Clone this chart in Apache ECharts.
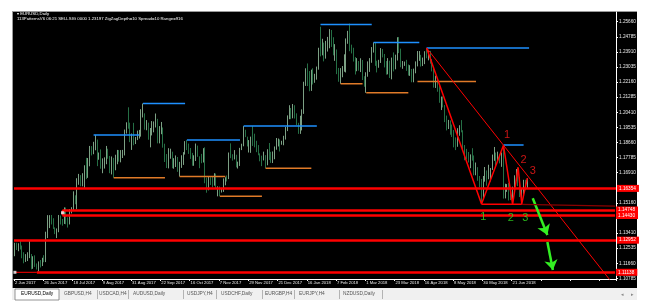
<!DOCTYPE html>
<html><head><meta charset="utf-8">
<script src="https://cdn.jsdelivr.net/npm/echarts@6/dist/echarts.min.js"></script>
<style>
html,body{margin:0;padding:0;background:#ffffff;width:652px;height:303px;overflow:hidden;}
#panel{position:absolute;left:12px;top:11px;width:625px;height:277px;background:#000;border-left:1px solid #9a9a9a;border-top:1px solid #9a9a9a;box-sizing:border-box;}
#tabs{position:absolute;left:12px;top:288px;width:625px;height:12px;background:#f0f0f0;}
#chart{position:absolute;left:0;top:0;width:652px;height:303px;}
</style></head><body>
<div id="panel"></div><div id="tabs"></div><div id="chart"></div>
<script>
// ---- tick labels ----
const xLabels = ['2 Jun 2017','26 Jun 2017','18 Jul 2017','9 Aug 2017','31 Aug 2017','22 Sep 2017','16 Oct 2017','7 Nov 2017','29 Nov 2017','21 Dec 2017','16 Jan 2018','7 Feb 2018','1 Mar 2018','23 Mar 2018','16 Apr 2018','8 May 2018','30 May 2018','21 Jun 2018'];
const yTicks = [1.25660,1.24785,1.23910,1.23035,1.22160,1.21285,1.20410,1.19535,1.18660,1.17785,1.16910,1.16035,1.15160,1.14285,1.13410,1.12535,1.11660,1.10785];

// ---- daily candles [open, high, low, close] ----
const jun17 = [[1.1216,1.1285,1.1207,1.1281],[1.1280,1.1285,1.1243,1.1253],[1.1253,1.1282,1.1236,1.1275],[1.1275,1.1296,1.1246,1.1258],[1.1258,1.1269,1.1195,1.1212],[1.1212,1.1230,1.1166,1.1197],[1.1197,1.1219,1.1174,1.1200],[1.1200,1.1230,1.1179,1.1213],[1.1213,1.1296,1.1196,1.1218],[1.1218,1.1220,1.1131,1.1149],[1.1149,1.1207,1.1134,1.1197],[1.1197,1.1212,1.1145,1.1150],[1.1150,1.1165,1.1130,1.1131],[1.1131,1.1177,1.1119,1.1167],[1.1167,1.1185,1.1142,1.1151],[1.1151,1.1198,1.1150,1.1196],[1.1196,1.1213,1.1172,1.1181],[1.1181,1.1349,1.1173,1.1337],[1.1337,1.1445,1.1312,1.1377],[1.1377,1.1445,1.1370,1.1441],[1.1441,1.1446,1.1391,1.1424]];
const jul17 = [[1.1424,1.1427,1.1365,1.1365],[1.1365,1.1374,1.1335,1.1349],[1.1349,1.1368,1.1312,1.1351],[1.1351,1.1446,1.1346,1.1423],[1.1423,1.1443,1.1391,1.1401],[1.1401,1.1423,1.1384,1.1400],[1.1400,1.1490,1.1394,1.1469],[1.1469,1.1489,1.1392,1.1414],[1.1414,1.1432,1.1373,1.1397],[1.1397,1.1480,1.1391,1.1470],[1.1470,1.1491,1.1455,1.1478],[1.1478,1.1583,1.1474,1.1556],[1.1556,1.1560,1.1508,1.1515],[1.1515,1.1659,1.1479,1.1635],[1.1635,1.1684,1.1621,1.1665],[1.1665,1.1677,1.1612,1.1642],[1.1642,1.1688,1.1612,1.1646],[1.1646,1.1734,1.1603,1.1731],[1.1731,1.1777,1.1654,1.1678],[1.1678,1.1776,1.1661,1.1751],[1.1751,1.1846,1.1728,1.1835]];
const aug17 = [[1.1835,1.1845,1.1791,1.1803],[1.1803,1.1870,1.1798,1.1860],[1.1860,1.1910,1.1821,1.1864],[1.1864,1.1883,1.1729,1.1774],[1.1774,1.1808,1.1766,1.1793],[1.1793,1.1826,1.1714,1.1753],[1.1753,1.1774,1.1688,1.1757],[1.1757,1.1780,1.1715,1.1769],[1.1769,1.1846,1.1740,1.1820],[1.1820,1.1830,1.1772,1.1779],[1.1779,1.1788,1.1688,1.1736],[1.1736,1.1785,1.1681,1.1769],[1.1769,1.1777,1.1662,1.1721],[1.1721,1.1795,1.1705,1.1761],[1.1761,1.1823,1.1740,1.1814],[1.1814,1.1822,1.1755,1.1762],[1.1762,1.1822,1.1751,1.1799],[1.1799,1.1823,1.1776,1.1800],[1.1800,1.1941,1.1791,1.1921],[1.1921,1.1983,1.1918,1.1977],[1.1977,1.2070,1.1946,1.1968],[1.1968,1.1981,1.1868,1.1886],[1.1886,1.1918,1.1823,1.1907]];
const sep17 = [[1.1907,1.1980,1.1850,1.1859],[1.1859,1.1898,1.1857,1.1886],[1.1886,1.1935,1.1880,1.1918],[1.1918,1.1939,1.1889,1.1918],[1.1918,1.2059,1.1900,1.2022],[1.2022,1.2092,1.2011,1.2035],[1.2035,1.2035,1.1940,1.1952],[1.1952,1.1996,1.1937,1.1966],[1.1966,1.1981,1.1882,1.1887],[1.1887,1.1950,1.1838,1.1923],[1.1923,1.1990,1.1907,1.1942],[1.1942,1.1988,1.1925,1.1955],[1.1955,1.2034,1.1953,1.1996],[1.1996,1.2003,1.1861,1.1890],[1.1890,1.1961,1.1861,1.1939],[1.1939,1.1985,1.1914,1.1950],[1.1950,1.1953,1.1836,1.1844],[1.1844,1.1859,1.1753,1.1795],[1.1795,1.1799,1.1718,1.1749],[1.1749,1.1833,1.1716,1.1787],[1.1787,1.1830,1.1772,1.1813]];
const oct17 = [[1.1813,1.1813,1.1717,1.1733],[1.1733,1.1775,1.1714,1.1741],[1.1741,1.1791,1.1724,1.1761],[1.1761,1.1782,1.1696,1.1707],[1.1707,1.1754,1.1669,1.1731],[1.1731,1.1792,1.1719,1.1738],[1.1738,1.1810,1.1736,1.1810],[1.1810,1.1874,1.1796,1.1857],[1.1857,1.1880,1.1822,1.1826],[1.1826,1.1860,1.1800,1.1819],[1.1819,1.1834,1.1771,1.1793],[1.1793,1.1806,1.1731,1.1765],[1.1765,1.1792,1.1731,1.1785],[1.1785,1.1860,1.1759,1.1844],[1.1844,1.1848,1.1783,1.1784],[1.1784,1.1786,1.1717,1.1763],[1.1763,1.1800,1.1746,1.1761],[1.1761,1.1833,1.1750,1.1812],[1.1812,1.1838,1.1630,1.1648],[1.1648,1.1663,1.1575,1.1609],[1.1609,1.1668,1.1589,1.1661],[1.1661,1.1665,1.1620,1.1647]];
const nov17 = [[1.1647,1.1667,1.1606,1.1622],[1.1622,1.1688,1.1616,1.1656],[1.1656,1.1686,1.1601,1.1608],[1.1608,1.1612,1.1554,1.1610],[1.1610,1.1611,1.1555,1.1587],[1.1587,1.1603,1.1576,1.1592],[1.1592,1.1658,1.1580,1.1645],[1.1645,1.1665,1.1618,1.1664],[1.1664,1.1675,1.1640,1.1663],[1.1663,1.1808,1.1654,1.1796],[1.1796,1.1861,1.1775,1.1792],[1.1792,1.1798,1.1761,1.1771],[1.1771,1.1822,1.1768,1.1792],[1.1792,1.1795,1.1722,1.1735],[1.1735,1.1755,1.1715,1.1736],[1.1736,1.1835,1.1730,1.1824],[1.1824,1.1859,1.1822,1.1854],[1.1854,1.1961,1.1844,1.1932],[1.1932,1.1940,1.1897,1.1896],[1.1896,1.1900,1.1843,1.1843],[1.1843,1.1880,1.1808,1.1845],[1.1845,1.1900,1.1806,1.1900]];
const dec17 = [[1.1900,1.1961,1.1846,1.1894],[1.1894,1.1917,1.1838,1.1864],[1.1864,1.1876,1.1810,1.1825],[1.1825,1.1851,1.1792,1.1795],[1.1795,1.1803,1.1757,1.1773],[1.1773,1.1790,1.1729,1.1772],[1.1772,1.1813,1.1762,1.1772],[1.1772,1.1793,1.1717,1.1741],[1.1741,1.1827,1.1734,1.1825],[1.1825,1.1863,1.1765,1.1778],[1.1778,1.1812,1.1748,1.1751],[1.1751,1.1814,1.1747,1.1780],[1.1780,1.1843,1.1769,1.1838],[1.1838,1.1892,1.1824,1.1873],[1.1873,1.1889,1.1843,1.1874],[1.1874,1.1884,1.1814,1.1860],[1.1860,1.1876,1.1853,1.1860],[1.1860,1.1905,1.1850,1.1890],[1.1890,1.1956,1.1883,1.1942],[1.1942,1.2023,1.1932,1.2005]];
const jan18 = [[1.2005,1.2082,1.2001,1.2059],[1.2059,1.2066,1.2001,1.2013],[1.2013,1.2089,1.2006,1.2069],[1.2069,1.2082,1.2005,1.2029],[1.2029,1.2035,1.1967,1.1967],[1.1967,1.1980,1.1916,1.1937],[1.1937,1.2021,1.1916,1.1949],[1.1949,1.2058,1.1936,1.2034],[1.2034,1.2218,1.2032,1.2200],[1.2200,1.2296,1.2194,1.2265],[1.2265,1.2324,1.2193,1.2261],[1.2261,1.2280,1.2163,1.2177],[1.2177,1.2288,1.2165,1.2236],[1.2236,1.2296,1.2202,1.2222],[1.2222,1.2264,1.2212,1.2262],[1.2262,1.2306,1.2230,1.2300],[1.2300,1.2415,1.2288,1.2407],[1.2407,1.2537,1.2365,1.2395],[1.2395,1.2467,1.2371,1.2427],[1.2427,1.2445,1.2336,1.2383],[1.2383,1.2455,1.2352,1.2405],[1.2405,1.2478,1.2393,1.2414]];
const feb18 = [[1.2414,1.2523,1.2412,1.2509],[1.2509,1.2518,1.2420,1.2459],[1.2459,1.2476,1.2371,1.2376],[1.2376,1.2436,1.2339,1.2376],[1.2376,1.2405,1.2262,1.2265],[1.2265,1.2298,1.2218,1.2246],[1.2246,1.2297,1.2206,1.2253],[1.2253,1.2309,1.2244,1.2289],[1.2289,1.2377,1.2276,1.2354],[1.2354,1.2469,1.2272,1.2449],[1.2449,1.2513,1.2438,1.2500],[1.2500,1.2555,1.2395,1.2407],[1.2407,1.2433,1.2382,1.2406],[1.2406,1.2415,1.2335,1.2338],[1.2338,1.2361,1.2260,1.2283],[1.2283,1.2355,1.2279,1.2326],[1.2326,1.2338,1.2282,1.2293],[1.2293,1.2354,1.2274,1.2318],[1.2318,1.2344,1.2228,1.2233],[1.2233,1.2250,1.2189,1.2193]];
const mar18 = [[1.2193,1.2273,1.2154,1.2270],[1.2270,1.2336,1.2247,1.2317],[1.2317,1.2355,1.2275,1.2337],[1.2337,1.2419,1.2328,1.2404],[1.2404,1.2446,1.2387,1.2411],[1.2411,1.2447,1.2310,1.2312],[1.2312,1.2340,1.2272,1.2306],[1.2306,1.2345,1.2299,1.2335],[1.2335,1.2413,1.2327,1.2389],[1.2389,1.2408,1.2359,1.2368],[1.2368,1.2379,1.2301,1.2304],[1.2304,1.2338,1.2259,1.2288],[1.2288,1.2355,1.2261,1.2335],[1.2335,1.2340,1.2240,1.2240],[1.2240,1.2358,1.2232,1.2352],[1.2352,1.2388,1.2278,1.2302],[1.2302,1.2375,1.2290,1.2352],[1.2352,1.2476,1.2341,1.2452],[1.2452,1.2477,1.2384,1.2403],[1.2403,1.2410,1.2302,1.2312],[1.2312,1.2338,1.2293,1.2319],[1.2319,1.2335,1.2310,1.2325]];
const apr18 = [[1.2325,1.2345,1.2281,1.2302],[1.2302,1.2318,1.2254,1.2270],[1.2270,1.2314,1.2252,1.2276],[1.2276,1.2292,1.2215,1.2240],[1.2240,1.2294,1.2215,1.2280],[1.2280,1.2336,1.2267,1.2319],[1.2319,1.2396,1.2307,1.2355],[1.2355,1.2396,1.2339,1.2367],[1.2367,1.2374,1.2306,1.2326],[1.2326,1.2358,1.2309,1.2331],[1.2331,1.2395,1.2320,1.2384],[1.2384,1.2414,1.2354,1.2371],[1.2371,1.2396,1.2342,1.2372],[1.2372,1.2397,1.2323,1.2343],[1.2343,1.2349,1.2278,1.2288],[1.2288,1.2292,1.2184,1.2210],[1.2210,1.2253,1.2182,1.2233],[1.2233,1.2236,1.2160,1.2162],[1.2162,1.2207,1.2096,1.2103],[1.2103,1.2132,1.2054,1.2130],[1.2130,1.2133,1.2069,1.2080]];
const may18 = [[1.2080,1.2083,1.1984,1.1992],[1.1992,1.2022,1.1936,1.1948],[1.1948,1.1997,1.1944,1.1988],[1.1988,1.1994,1.1911,1.1961],[1.1961,1.1970,1.1898,1.1920],[1.1920,1.1938,1.1838,1.1863],[1.1863,1.1896,1.1822,1.1851],[1.1851,1.1949,1.1841,1.1916],[1.1916,1.1966,1.1905,1.1941],[1.1941,1.1996,1.1925,1.1925],[1.1925,1.1937,1.1821,1.1833],[1.1833,1.1851,1.1763,1.1809],[1.1809,1.1829,1.1768,1.1794],[1.1794,1.1811,1.1750,1.1769],[1.1769,1.1797,1.1717,1.1790],[1.1790,1.1833,1.1761,1.1778],[1.1778,1.1791,1.1676,1.1698],[1.1698,1.1750,1.1676,1.1720],[1.1720,1.1723,1.1644,1.1653],[1.1653,1.1672,1.1606,1.1623],[1.1623,1.1655,1.1510,1.1538],[1.1538,1.1672,1.1535,1.1664],[1.1664,1.1724,1.1639,1.1694]];
const jun18 = [[1.1694,1.1704,1.1616,1.1659],[1.1659,1.1737,1.1653,1.1694],[1.1694,1.1718,1.1641,1.1717],[1.1717,1.1796,1.1707,1.1775],[1.1775,1.1840,1.1760,1.1798],[1.1798,1.1808,1.1727,1.1769],[1.1769,1.1813,1.1756,1.1782],[1.1782,1.1796,1.1745,1.1776],[1.1776,1.1808,1.1725,1.1794],[1.1794,1.1852,1.1541,1.1567],[1.1567,1.1627,1.1542,1.1610],[1.1610,1.1625,1.1580,1.1620],[1.1620,1.1631,1.1530,1.1588],[1.1588,1.1599,1.1532,1.1571],[1.1571,1.1610,1.1508,1.1602],[1.1602,1.1676,1.1594,1.1655],[1.1655,1.1712,1.1645,1.1700],[1.1700,1.1722,1.1613,1.1655],[1.1655,1.1666,1.1550,1.1560],[1.1560,1.1600,1.1510,1.1571],[1.1571,1.1650,1.1560,1.1640]];
const jul18 = [[1.1640,1.1650,1.1590,1.1620],[1.1620,1.1659,1.1600,1.1645]];

// ---- drawn objects (bar index, price) ----
const srFull = [1.16354, 1.12952];          // full-width support/resistance
const srBox = [1.14748, 1.14430];           // double line starting at bar 26
const srBoxStart = 26;
const srLow = 1.11138;                      // bottom line
const srLowStart = 12;
const anchors = [[26,1.14589],[0,1.11138]]; // selected-object anchor squares
const zigzag = [[225,1.2414],[255,1.1510],[267,1.1850],[272,1.1508],[275,1.1722],[277,1.1510],[280,1.1659]];
const baseLine = [[255,1.1508],[277,1.1508]];
const baseExt = [[277,1.1508],[328,1.1497]];
const trendLine = [[225,1.2414],[327,1.1045]];
const arrow1 = [[283,1.1543],[291,1.1330]];
const arrow2 = [[291,1.1290],[294,1.1127]];
const redNums = [[268.9,1.1909,'1'],[277.6,1.1765,'2'],[283.1,1.1701,'3']];
const greenNums = [[255.8,1.1437,'1'],[271.1,1.1430,'2'],[279.3,1.1430,'3']];
// zigzag level lines: [startBar, endBar, price]
const blueLevels = [[43,68,1.1910],[70,93,1.2092],[94,123,1.1880],[125,165,1.1961],[167,195,1.2550],[196,221,1.2446],[225,281,1.2414],[267,278,1.1852]];
const orangeLevels = [[54,82,1.1662],[90,115,1.1669],[112,135,1.1554],[137,162,1.1717],[178,190,1.2206],[192,215,1.2154],[220,252,1.2220]];

const bars = [].concat(jun17,jul17,aug17,sep17,oct17,nov17,dec17,jan18,feb18,mar18,apr18,may18,jun18,jul18);
const N = 329;
const cats = Array.from({length:N},(_,i)=>String(i));
const candleData = bars.map(r=>[r[0],r[3],r[2],r[1]]);

const FONT = 'Liberation Sans';
function seg(points,color,width,z){
  return {type:'line',data:points,symbol:'none',silent:true,animation:false,clip:true,z:z||4,
    lineStyle:{color:color,width:width},itemStyle:{color:color}};
}
const series = [];
series.push({type:'candlestick',data:candleData,barWidth:1,z:2,silent:true,animation:false,
  itemStyle:{color:'#e6eee6',color0:'#2e8b57',borderColor:'#9cc9a6',borderColor0:'#2e8b57',borderWidth:0.8}});
blueLevels.forEach(l=>series.push(seg([[l[0],l[2]],[l[1],l[2]]],'#1e90ff',1.5,3)));
orangeLevels.forEach(l=>series.push(seg([[l[0],l[2]],[l[1],l[2]]],'#e07a28',1.5,3)));
// support / resistance lines with price boxes
const lbl = v=>({show:true,position:'end',distance:1,formatter:v.toFixed(5),color:'#ffffff',backgroundColor:'#ff0000',
  fontSize:4.7,fontFamily:FONT,padding:[1,3,1,2]});
const mlData = [];
srFull.forEach(v=>mlData.push({yAxis:v,lineStyle:{color:'#ff0000',width:2.5,type:'solid'},label:lbl(v)}));
srBox.forEach(v=>mlData.push([{coord:[srBoxStart,v],lineStyle:{color:'#ff0000',width:2.5,type:'solid'},label:lbl(v)},{coord:[N-1,v]}]));
mlData.push([{coord:[srLowStart,srLow],lineStyle:{color:'#ff0000',width:2.5,type:'solid'},label:lbl(srLow)},{coord:[N-1,srLow]}]);
series.push({type:'line',data:[],z:5,markLine:{silent:true,animation:false,symbol:['none','none'],data:mlData}});
series.push(seg([[srBoxStart,srBox[0]],[srBoxStart,srBox[1]]],'#ff0000',1.5,5));
series.push(seg([[0,srLow],[srLowStart,srLow]],'#ff0000',1,5));
series.push({type:'scatter',data:anchors,symbol:'rect',symbolSize:3,z:9,silent:true,animation:false,
  itemStyle:{color:'#ffffff'}});
series.push(seg(trendLine,'#ff0000',1,6));
series.push(seg(baseExt,'#8b0000',1.2,6));
series.push(seg(baseLine,'#ff0000',1.5,6));
series.push(seg(zigzag,'#ff0000',1.5,6));
series.push({type:'line',data:[],z:7,markLine:{silent:true,animation:false,symbol:['none','arrow'],symbolSize:10,
  lineStyle:{color:'#33ee22',width:2.5,type:'solid'},label:{show:false},
  data:[[{coord:arrow1[0]},{coord:arrow1[1]}],[{coord:arrow2[0]},{coord:arrow2[1]}]]}});
series.push({type:'scatter',data:redNums,symbolSize:0,z:8,silent:true,animation:false,
  label:{show:true,position:'inside',formatter:p=>p.data[2],color:'#ff1a1a',fontSize:11,fontFamily:FONT}});
series.push({type:'scatter',data:greenNums,symbolSize:0,z:8,silent:true,animation:false,
  label:{show:true,position:'inside',formatter:p=>p.data[2],color:'#33dd22',fontSize:11,fontFamily:FONT}});

const tabs = [['EURUSD,Daily',21],['GBPUSD,H4',64],['USDCAD,H4',99],['AUDUSD,Daily',133],['USDJPY,H4',187],['USDCHF,Daily',221],['EURGBP,H4',265],['EURJPY,H4',299],['NZDUSD,Daily',343]];
const seps = [97,128,183,216,262,294,339,382];
const graphics = [
  {type:'text',left:17,top:12,style:{text:'\u25BE EURUSD,Daily',fill:'#ffffff',font:'4.3px "Liberation Sans"'}},
  {type:'text',left:17,top:16.5,style:{text:'113PatternsV6 06:21 SELLSIG 0000 1.23197 ZigZagDepth=10 Spread=10 Range=916',fill:'#ffffff',font:'4.3px "Liberation Sans"'}},
  {type:'rect',shape:{x:15,y:289,width:44,height:11},style:{fill:'#ffffff',stroke:'#7a7a7a',lineWidth:0.8}}
];
tabs.forEach((t,i)=>graphics.push({type:'text',x:t[1],y:291.5,style:{text:t[0],fill:i===0?'#000000':'#555555',font:'4.8px "Liberation Sans"'}}));
seps.forEach(s=>graphics.push({type:'rect',shape:{x:s,y:290,width:0.6,height:9},style:{fill:'#8a8a8a'}}));
graphics.push({type:'text',x:621,y:292,style:{text:'\u25C2',fill:'#888',font:'5px "DejaVu Sans"'}});
graphics.push({type:'text',x:631,y:292,style:{text:'\u25B8',fill:'#888',font:'5px "DejaVu Sans"'}});

const chart = echarts.init(document.getElementById('chart'),null,{renderer:'canvas'});
chart.setOption({
  backgroundColor:'transparent',
  animation:false,
  grid:{left:14,right:36,top:12,bottom:24,containLabel:false},
  xAxis:{type:'category',data:cats,boundaryGap:true,
    axisLine:{show:true,lineStyle:{color:'#ffffff',width:1}},
    axisTick:{show:true,interval:15,length:2,lineStyle:{color:'#ffffff'}},
    axisLabel:{show:true,interval:15,align:'left',margin:2,color:'#e8e8e8',fontSize:4.2,fontFamily:FONT,
      formatter:(v,i)=>(xLabels[i/16]||'')},
    splitLine:{show:false}},
  yAxis:{type:'value',position:'right',min:1.1075,max:1.26222,scale:true,
    axisLine:{show:true,lineStyle:{color:'#ffffff',width:1}},
    axisTick:{show:true,length:2,customValues:yTicks,lineStyle:{color:'#ffffff'}},
    axisLabel:{show:true,margin:3,color:'#e8e8e8',fontSize:4.7,fontFamily:FONT,customValues:yTicks,
      formatter:v=>v.toFixed(5)},
    splitLine:{show:false}},
  graphic:graphics,
  series:series
});
</script>
</body></html>
